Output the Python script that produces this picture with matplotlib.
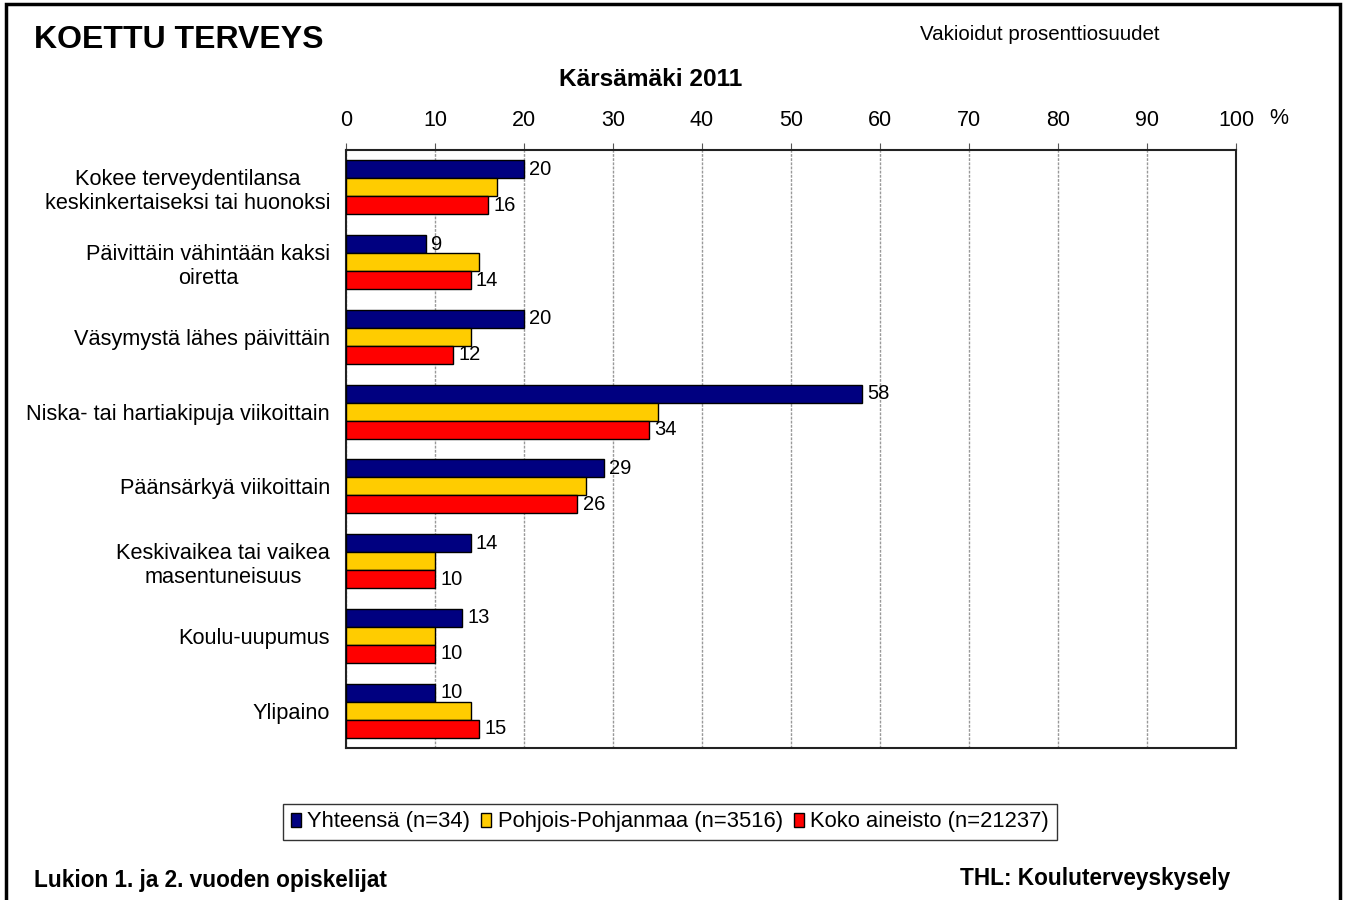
import numpy as np
import matplotlib.pyplot as plt
from matplotlib.patches import Rectangle

plt.rcParams['font.family'] = ['Liberation Sans', 'DejaVu Sans']

categories = ['Kokee terveydentilansa\nkeskinkertaiseksi tai huonoksi',
              'Päivittäin vähintään kaksi\noiretta',
              'Väsymystä lähes päivittäin',
              'Niska- tai hartiakipuja viikoittain',
              'Päänsärkyä viikoittain',
              'Keskivaikea tai vaikea\nmasentuneisuus',
              'Koulu-uupumus',
              'Ylipaino']
yhteensa = [20, 9, 20, 58, 29, 14, 13, 10]
pohjois = [17, 15, 14, 35, 27, 10, 10, 14]
koko = [16, 14, 12, 34, 26, 10, 10, 15]
series_names = ['Yhteensä (n=34)', 'Pohjois-Pohjanmaa (n=3516)', 'Koko aineisto (n=21237)']
colors = ['#000080', '#FFCC00', '#FF0000']
xticks = list(range(0, 101, 10))

fig = plt.figure(figsize=(13.46, 9), dpi=100)
ax = fig.add_axes([346 / 1346, 1 - 748 / 900, 890 / 1346, 598 / 900])

# outer frame (bottom edge cut off like the original)
fig.patches.append(Rectangle((6 / 1346, -0.05), 1334 / 1346, 1.05 - 4 / 900,
                             transform=fig.transFigure, fill=False,
                             edgecolor='black', linewidth=2.5))

y = np.arange(len(categories))
h = 0.24
all_vals = [yhteensa, pohjois, koko]
for i, (vals, col, name) in enumerate(zip(all_vals, colors, series_names)):
    pos = y + (i - 1) * h
    ax.barh(pos, vals, height=h, color=col, edgecolor='black',
            linewidth=1, label=name, zorder=3)
    if i != 1:
        for p, v in zip(pos, vals):
            ax.text(v + 0.6, p, str(v), va='center', ha='left', fontsize=14.5, zorder=4)

ax.set_xlim(0, 100)
ax.set_ylim(len(categories) - 0.5, -0.5)
ax.set_xticks(xticks)
ax.xaxis.tick_top()
ax.tick_params(axis='x', direction='out', length=5, pad=9, labelsize=15.5, color='#555555')
ax.set_yticks(y)
ax.set_yticklabels(categories, fontsize=15.7, multialignment='center')
ax.tick_params(axis='y', length=0, pad=11.5)
ax.grid(axis='x', color='#999999', linestyle=(0, (2, 1)), linewidth=1, zorder=0)
for s in ax.spines.values():
    s.set_color('#222222')
    s.set_linewidth(1.5)

fig.text(1279 / 1346, 1 - 118 / 900, '%', fontsize=15.5, ha='center', va='center')
fig.text(34 / 1346, 1 - 40 / 900, 'KOETTU TERVEYS', fontsize=23, fontweight='bold',
         ha='left', va='center')
fig.text(1040 / 1346, 1 - 34 / 900, 'Vakioidut prosenttiosuudet', fontsize=14.8,
         ha='center', va='center')
fig.text(651 / 1346, 1 - 79 / 900, 'Kärsämäki 2011', fontsize=17.6, fontweight='bold',
         ha='center', va='center')
fig.text(34 / 1346, 1 - 880 / 900, 'Lukion 1. ja 2. vuoden opiskelijat', fontsize=16.3,
         fontweight='bold', ha='left', va='center')
fig.text(1230 / 1346, 1 - 879 / 900, 'THL: Kouluterveyskysely', fontsize=16.3,
         fontweight='bold', ha='right', va='center')

leg = fig.legend(loc='center', bbox_to_anchor=(670 / 1346, 1 - 822 / 900), ncol=3,
                 fontsize=15.8, frameon=True, fancybox=False, edgecolor='black',
                 handlelength=0.45, handleheight=0.6, handletextpad=0.3,
                 columnspacing=0.5, borderpad=0.35, borderaxespad=0)
leg.get_frame().set_linewidth(1)

fig.savefig('out.png', dpi=100)
